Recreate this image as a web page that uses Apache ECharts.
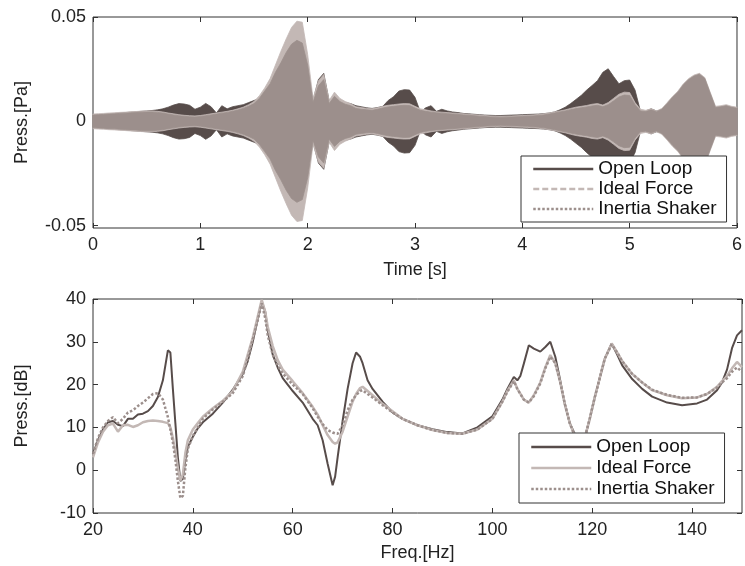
<!DOCTYPE html>
<html>
<head>
<meta charset="utf-8">
<script src="https://cdn.jsdelivr.net/npm/echarts@6/dist/echarts.min.js"></script>
<style>
  html, body { margin: 0; padding: 0; background: #fff; }
  #chart { width: 745px; height: 566px; }
</style>
</head>
<body>
<div id="chart"></div>
<script>
// ---- top panel: envelope (half width) of the pressure time signal [Pa]
const timeS = [
  0.00, 0.05, 0.10, 0.15, 0.20, 0.25, 0.30, 0.35, 0.40, 0.45,
  0.50, 0.55, 0.60, 0.65, 0.70, 0.75, 0.80, 0.85, 0.90, 0.95,
  1.00, 1.05, 1.10, 1.15, 1.20, 1.25, 1.30, 1.35, 1.40, 1.45,
  1.50, 1.55, 1.60, 1.65, 1.70, 1.75, 1.80, 1.85, 1.90, 1.95,
  2.00, 2.05, 2.10, 2.15, 2.20, 2.25, 2.30, 2.35, 2.40, 2.45,
  2.50, 2.55, 2.60, 2.65, 2.70, 2.75, 2.80, 2.85, 2.90, 2.95,
  3.00, 3.05, 3.10, 3.15, 3.20, 3.25, 3.30, 3.35, 3.40, 3.45,
  3.50, 3.55, 3.60, 3.65, 3.70, 3.75, 3.80, 3.85, 3.90, 3.95,
  4.00, 4.05, 4.10, 4.15, 4.20, 4.25, 4.30, 4.35, 4.40, 4.45,
  4.50, 4.55, 4.60, 4.65, 4.70, 4.75, 4.80, 4.85, 4.90, 4.95,
  5.00, 5.05, 5.10, 5.15, 5.20, 5.25, 5.30, 5.35, 5.40, 5.45,
  5.50, 5.55, 5.60, 5.65, 5.70, 5.75, 5.80, 5.85, 5.90, 5.95,
  6.00
];
const openLoopAmp = [
  0.0030, 0.0032, 0.0034, 0.0036, 0.0038, 0.0040, 0.0042, 0.0044, 0.0046, 0.0048,
  0.0050, 0.0052, 0.0055, 0.0060, 0.0068, 0.0078, 0.0085, 0.0083, 0.0077, 0.0058,
  0.0068, 0.0086, 0.0070, 0.0040, 0.0075, 0.0060, 0.0070, 0.0075, 0.0080, 0.0090,
  0.0100, 0.0110, 0.0130, 0.0160, 0.0200, 0.0250, 0.0300, 0.0340, 0.0360, 0.0350,
  0.0250, 0.0100, 0.0200, 0.0230, 0.0100, 0.0120, 0.0100, 0.0090, 0.0085, 0.0075,
  0.0070, 0.0065, 0.0062, 0.0066, 0.0072, 0.0100, 0.0118, 0.0145, 0.0152, 0.0150,
  0.0115, 0.0045, 0.0065, 0.0075, 0.0048, 0.0058, 0.0050, 0.0045, 0.0042, 0.0038,
  0.0036, 0.0034, 0.0032, 0.0030, 0.0029, 0.0028, 0.0028, 0.0029, 0.0030, 0.0031,
  0.0032, 0.0033, 0.0034, 0.0035, 0.0037, 0.0040, 0.0045, 0.0055, 0.0068, 0.0085,
  0.0105, 0.0125, 0.0150, 0.0172, 0.0195, 0.0235, 0.0252, 0.0215, 0.0180, 0.0195,
  0.0198, 0.0150, 0.0050, 0.0050, 0.0060, 0.0050, 0.0055, 0.0060, 0.0075, 0.0090,
  0.0100, 0.0110, 0.0120, 0.0120, 0.0110, 0.0090, 0.0065, 0.0070, 0.0072, 0.0068,
  0.0065
];
const idealForceAmp = [
  0.0035, 0.0037, 0.0038, 0.0040, 0.0041, 0.0043, 0.0044, 0.0046, 0.0047, 0.0049,
  0.0050, 0.0050, 0.0048, 0.0045, 0.0040, 0.0036, 0.0032, 0.0029, 0.0027, 0.0026,
  0.0028, 0.0032, 0.0036, 0.0040, 0.0044, 0.0048, 0.0053, 0.0060, 0.0068, 0.0080,
  0.0095, 0.0123, 0.0160, 0.0205, 0.0270, 0.0335, 0.0395, 0.0450, 0.0480, 0.0475,
  0.0320, 0.0110, 0.0195, 0.0225, 0.0100, 0.0140, 0.0110, 0.0095, 0.0085, 0.0070,
  0.0066, 0.0062, 0.0060, 0.0065, 0.0072, 0.0077, 0.0080, 0.0083, 0.0085, 0.0084,
  0.0072, 0.0060, 0.0055, 0.0050, 0.0046, 0.0044, 0.0042, 0.0040, 0.0038, 0.0036,
  0.0034, 0.0032, 0.0030, 0.0028, 0.0026, 0.0025, 0.0024, 0.0025, 0.0026, 0.0027,
  0.0028, 0.0029, 0.0031, 0.0033, 0.0036, 0.0040, 0.0045, 0.0050, 0.0055, 0.0062,
  0.0068, 0.0072, 0.0076, 0.0082, 0.0085, 0.0078, 0.0090, 0.0110, 0.0130, 0.0140,
  0.0138, 0.0090, 0.0058, 0.0053, 0.0060, 0.0050, 0.0062, 0.0090, 0.0120, 0.0145,
  0.0180, 0.0205, 0.0222, 0.0230, 0.0210, 0.0140, 0.0072, 0.0075, 0.0080, 0.0072,
  0.0068
];
const inertiaShakerAmp = [
  0.0030, 0.0032, 0.0033, 0.0035, 0.0036, 0.0038, 0.0039, 0.0041, 0.0042, 0.0044,
  0.0045, 0.0045, 0.0043, 0.0040, 0.0035, 0.0031, 0.0027, 0.0024, 0.0022, 0.0021,
  0.0023, 0.0027, 0.0031, 0.0035, 0.0039, 0.0043, 0.0048, 0.0054, 0.0062, 0.0072,
  0.0085, 0.0110, 0.0145, 0.0180, 0.0235, 0.0280, 0.0330, 0.0370, 0.0388, 0.0375,
  0.0270, 0.0090, 0.0170, 0.0200, 0.0085, 0.0120, 0.0095, 0.0082, 0.0075, 0.0062,
  0.0058, 0.0055, 0.0053, 0.0058, 0.0064, 0.0069, 0.0072, 0.0075, 0.0077, 0.0076,
  0.0064, 0.0053, 0.0048, 0.0044, 0.0041, 0.0039, 0.0037, 0.0035, 0.0033, 0.0031,
  0.0029, 0.0027, 0.0025, 0.0023, 0.0021, 0.0020, 0.0019, 0.0020, 0.0021, 0.0022,
  0.0023, 0.0024, 0.0026, 0.0028, 0.0031, 0.0035, 0.0040, 0.0045, 0.0050, 0.0056,
  0.0061, 0.0065, 0.0069, 0.0074, 0.0077, 0.0070, 0.0080, 0.0098, 0.0117, 0.0126,
  0.0124, 0.0080, 0.0050, 0.0047, 0.0055, 0.0046, 0.0058, 0.0085, 0.0115, 0.0140,
  0.0175, 0.0200, 0.0217, 0.0226, 0.0205, 0.0135, 0.0066, 0.0070, 0.0075, 0.0067,
  0.0063
];

// ---- bottom panel: pressure spectrum [dB]
const freqHz = [
  20, 21, 22, 23, 24, 25, 26, 27, 28, 29, 30, 31, 32, 33, 34, 35, 35.5, 36, 36.5, 37,
  37.5, 38, 38.5, 39, 40, 41, 42, 44, 46, 48, 50, 51, 52, 53, 53.8, 54.5, 55, 56, 57, 58,
  60, 62, 64, 65, 66, 67, 68, 68.5, 69, 70, 71, 72, 72.7, 73.5, 74, 75, 76, 78, 80, 82,
  85, 88, 91, 94, 97, 100, 102, 103, 104.3, 105, 105.6, 106.3, 107.3, 108.3, 109.6, 110.6, 111.6, 112.6, 113.5, 114.5,
  115.5, 116.5, 117.5, 118.5, 119.5, 120.5, 121.5, 122.5, 123.9, 125, 126, 128, 130, 132, 135, 138, 141, 143, 145, 146,
  147, 148, 149, 150
];
const openLoopDb = [
  3.8, 7.0, 9.5, 11.2, 11.5, 10.6, 10.3, 12.0, 12.0, 13.0, 13.2, 13.8, 15.0, 17.1, 21.0, 28.0, 27.5, 19.0, 11.0, 3.0,
  -2.5, -2.0, 2.5, 5.5, 7.8, 9.8, 11.2, 13.2, 15.8, 18.8, 22.5, 25.5, 30.0, 35.5, 39.4, 37.0, 32.7, 27.0, 24.0, 21.5,
  18.5, 15.8, 12.0, 10.5, 7.0, 1.5, -3.5, -1.5, 3.0, 11.5, 19.0, 25.0, 27.5, 26.5, 25.0, 21.0, 19.0, 16.0, 13.5, 12.0,
  10.5, 9.6, 8.9, 8.6, 10.0, 12.6, 16.5, 19.0, 21.8, 21.0, 22.0, 24.9, 29.2, 28.4, 27.7, 28.8, 30.0, 26.5, 21.5, 15.5,
  11.0, 8.5, 6.5, 7.5, 12.0, 17.0, 21.5, 26.0, 29.6, 27.0, 24.5, 21.3, 19.0, 17.2, 15.8, 15.2, 15.6, 16.5, 18.7, 20.5,
  23.5, 28.5, 31.5, 32.7
];
const idealForceDb = [
  3.0, 6.5, 9.0, 10.5, 10.9, 9.0, 10.5, 10.6, 10.1, 10.5, 11.2, 11.5, 11.6, 11.5, 11.3, 11.0, 10.0, 7.5, 4.5, 0.5,
  -2.4, -1.0, 4.0, 7.0, 9.5, 11.0, 12.5, 14.5, 16.2, 18.5, 23.0, 27.0, 31.0, 35.9, 39.8, 37.0, 33.5, 29.0, 25.7, 23.5,
  20.8, 18.0, 14.8, 13.0, 10.5, 8.2, 6.6, 6.2, 6.5, 9.0, 12.5, 16.0, 17.8, 19.2, 19.5, 18.5, 17.5, 15.5, 13.8, 12.0,
  10.5, 9.4, 8.7, 8.5, 9.5, 12.0, 16.0, 18.5, 21.0, 19.0, 17.9, 16.5, 15.8, 17.5, 20.5, 24.0, 26.9, 25.0, 21.0, 15.5,
  11.0, 8.0, 6.5, 7.5, 12.0, 17.0, 21.5, 26.0, 29.6, 27.5, 25.5, 22.5, 20.5, 18.7, 17.5, 16.8, 17.0, 17.8, 19.5, 20.8,
  22.0, 23.8, 25.3, 24.1
];
const inertiaShakerDb = [
  3.8, 7.5, 10.0, 11.5, 12.4, 11.0, 12.0, 13.5, 14.0, 15.0, 15.8, 16.8, 17.8, 18.0, 16.5, 12.4, 9.5, 6.5, 2.5, -2.5,
  -6.5, -6.0, 0.5, 5.0, 8.0, 10.0, 12.0, 14.2, 16.0, 18.0, 22.0, 26.0, 30.5, 35.0, 39.0, 35.5, 31.5, 27.0, 24.5, 22.6,
  20.0, 17.8, 14.5, 12.5, 10.8, 9.4, 8.8, 8.6, 8.5, 10.5, 14.0, 16.5, 17.5, 18.5, 18.7, 17.8, 17.0, 15.2, 13.5, 12.0,
  10.5, 9.4, 8.7, 8.5, 9.5, 12.0, 16.0, 18.3, 20.8, 19.0, 17.8, 16.5, 15.8, 17.3, 20.3, 23.8, 26.5, 25.0, 21.0, 15.5,
  11.0, 8.0, 6.5, 7.5, 12.0, 17.0, 21.5, 26.0, 29.4, 27.5, 25.5, 22.5, 20.5, 18.8, 17.6, 16.9, 17.0, 17.8, 19.3, 20.5,
  21.5, 23.0, 24.0, 23.0
];

const pressPaTicks = [-0.05, 0, 0.05];
const seriesNames = ['Open Loop', 'Ideal Force', 'Inertia Shaker'];

const darkColor = '#574c4a';
const lightColor = '#c3b8b5';
const midColor = '#9c8f8c';
const frameColor = '#333333';
const textColor = '#222222';
const fontFamily = 'Liberation Sans, Arial, sans-serif';

const chart = echarts.init(document.getElementById('chart'), null, { renderer: 'canvas' });

// filled envelope: upper edge (+amp) and lower edge (-amp) closed into one polygon
function bandSeries(name, amp, color) {
    return {
        type: 'custom', name: name + ' (envelope)', xAxisIndex: 0, yAxisIndex: 0,
        silent: true, z: 2,
        data: timeS.map((t, i) => [t, amp[i]]),
        encode: { x: 0, y: 1 },
        renderItem: function (params, api) {
            if (params.dataIndexInside !== 0) return null;
            const n = params.dataInsideLength;
            const upper = [];
            const lower = [];
            for (let i = 0; i < n; i++) {
                const t = api.value(0, i);
                const a = api.value(1, i);
                upper.push(api.coord([t, a]));
                lower.push(api.coord([t, -a]));
            }
            return {
                type: 'polygon',
                shape: { points: upper.concat(lower.reverse()) },
                style: { fill: color, stroke: color, lineWidth: 0.8 }
            };
        }
    };
}

function spectrum(name, values, style) {
    return {
        type: 'line', name: name + ' (dB)', xAxisIndex: 2, yAxisIndex: 2,
        symbol: 'none', silent: true, z: 2,
        lineStyle: style,
        data: freqHz.map((f, i) => [f, values[i]])
    };
}

// empty line series, only used for the legend entries
function legendSeries(name, color) {
    return {
        type: 'line', name: name, xAxisIndex: 0, yAxisIndex: 0,
        symbol: 'none', silent: true, data: [],
        lineStyle: { color: color }, itemStyle: { color: color }
    };
}

const labelStyle = { color: textColor, fontSize: 18, fontFamily: fontFamily };
const nameStyle = { color: textColor, fontSize: 18, fontFamily: fontFamily };
const tickStyle = { show: true, inside: true, length: 5, lineStyle: { color: frameColor, width: 1 } };
const noLine = { show: false, onZero: false };

function mirrorAxis(base, position) {
    return Object.assign({}, base, {
        position: position, name: '',
        axisLabel: { show: false },
        axisLine: noLine,
        splitLine: { show: false }
    });
}

const topX = {
    type: 'value', gridIndex: 0, min: 0, max: 6, interval: 1,
    axisLine: noLine, axisTick: tickStyle, splitLine: { show: false },
    axisLabel: Object.assign({ margin: 8 }, labelStyle),
    name: 'Time [s]', nameLocation: 'middle', nameGap: 33, nameTextStyle: nameStyle
};
const topY = {
    type: 'value', gridIndex: 0, min: -0.0511, max: 0.05,
    axisLine: noLine,
    axisTick: Object.assign({}, tickStyle, { customValues: pressPaTicks }),
    splitLine: { show: false },
    axisLabel: Object.assign({ margin: 7, customValues: pressPaTicks }, labelStyle),
    name: 'Press.[Pa]', nameLocation: 'middle', nameGap: 62, nameTextStyle: nameStyle
};
const botX = {
    type: 'value', gridIndex: 1, min: 20, max: 150, interval: 20,
    axisLine: noLine, axisTick: tickStyle, splitLine: { show: false },
    axisLabel: Object.assign({ margin: 8, showMaxLabel: false }, labelStyle),
    name: 'Freq.[Hz]', nameLocation: 'middle', nameGap: 31, nameTextStyle: nameStyle
};
const botY = {
    type: 'value', gridIndex: 1, min: -10, max: 40, interval: 10,
    axisLine: noLine, axisTick: tickStyle, splitLine: { show: false },
    axisLabel: Object.assign({ margin: 7 }, labelStyle),
    name: 'Press.[dB]', nameLocation: 'middle', nameGap: 62, nameTextStyle: nameStyle
};

const legendBase = {
    orient: 'vertical', z: 10,
    itemWidth: 60, itemHeight: 18, itemGap: 0,
    padding: [3, 10, 3, 11],
    borderColor: frameColor, borderWidth: 1, backgroundColor: '#ffffff',
    textStyle: { color: '#111', fontSize: 19, lineHeight: 20, fontFamily: fontFamily },
    selectedMode: false
};

const option = {
    backgroundColor: '#ffffff',
    animation: false,
    grid: [
        { left: 93, top: 17, width: 649, height: 211, show: true, borderColor: frameColor, borderWidth: 1, backgroundColor: '#fff' },
        { left: 93, top: 299, width: 649, height: 214, show: true, borderColor: frameColor, borderWidth: 1, backgroundColor: '#fff' }
    ],
    xAxis: [topX, mirrorAxis(topX, 'top'), botX, mirrorAxis(botX, 'top')],
    yAxis: [topY, mirrorAxis(topY, 'right'), botY, mirrorAxis(botY, 'right')],
    legend: [
        Object.assign({}, legendBase, {
            left: 521, top: 156,
            data: [
                { name: seriesNames[0], itemStyle: { opacity: 0 }, lineStyle: { color: darkColor, width: 2.5, type: 'solid' } },
                { name: seriesNames[1], itemStyle: { opacity: 0 }, lineStyle: { color: lightColor, width: 2.5, type: [6, 3] } },
                { name: seriesNames[2], itemStyle: { opacity: 0 }, lineStyle: { color: midColor, width: 2.5, type: [2.5, 2] } }
            ]
        }),
        Object.assign({}, legendBase, {
            left: 519, top: 433, itemGap: 1, padding: [4, 10, 4, 11],
            data: [
                { name: seriesNames[0], itemStyle: { opacity: 0 }, lineStyle: { color: darkColor, width: 2.5, type: 'solid' } },
                { name: seriesNames[1], itemStyle: { opacity: 0 }, lineStyle: { color: lightColor, width: 2.5, type: 'solid' } },
                { name: seriesNames[2], itemStyle: { opacity: 0 }, lineStyle: { color: midColor, width: 2.5, type: [2.5, 2] } }
            ]
        })
    ],
    series: [
        bandSeries(seriesNames[0], openLoopAmp, darkColor),
        bandSeries(seriesNames[1], idealForceAmp, lightColor),
        bandSeries(seriesNames[2], inertiaShakerAmp, midColor),
        spectrum(seriesNames[0], openLoopDb, { color: darkColor, width: 2 }),
        spectrum(seriesNames[1], idealForceDb, { color: lightColor, width: 2.5 }),
        spectrum(seriesNames[2], inertiaShakerDb, { color: midColor, width: 2.5, type: [2.5, 2] }),
        legendSeries(seriesNames[0], darkColor),
        legendSeries(seriesNames[1], lightColor),
        legendSeries(seriesNames[2], midColor)
    ]
};

chart.setOption(option);
</script>
</body>
</html>
